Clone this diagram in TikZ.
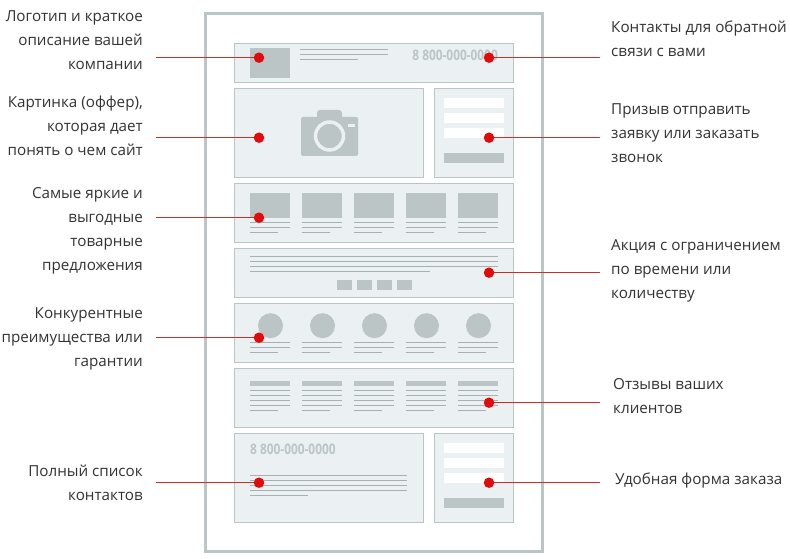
\documentclass[tikz,border=0pt]{standalone}
\usepackage{fontspec}
\usepackage{graphicx}
\setmainfont{Open Sans}
\definecolor{gr}{HTML}{BBC5C6}
\definecolor{pan}{HTML}{EBF0F2}
\definecolor{rd}{HTML}{E00B0B}
\definecolor{ln}{HTML}{C9302C}
\tikzset{
  panel/.style={draw=gr,fill=pan,line width=.9bp},
  block/.style={fill=gr},
  hair/.style={draw=gr!90!black,line width=.7bp},
  dot/.style={circle,fill=rd,inner sep=0pt,minimum size=10.5bp},
  lead/.style={draw=ln,line width=1bp},
  lt/.style={align=right,anchor=east,font=\fontsize{15.2bp}{24bp}\selectfont,text=black!80,inner sep=0pt},
  rt/.style={align=left,anchor=west,font=\fontsize{15.2bp}{24bp}\selectfont,text=black!80,inner sep=0pt},
  ph/.style={inner sep=0pt,text=gr,font=\fontsize{14.5bp}{15bp}\selectfont\bfseries}
}
\newcommand{\pnl}[4]{\draw[panel] (#1,#2) rectangle (#3,#4);}
\newcommand{\blk}[4]{\fill[block] (#1,#2) rectangle (#3,#4);}
\newcommand{\hl}[3]{\draw[hair] (#1,#3) -- (#2,#3);}
\newcommand{\formbits}[1]{%
  \foreach \d in {0,15,30}{\fill[white] (444,#1+\d) rectangle (504,#1+\d+10);}
  \blk{444}{#1+55}{504}{#1+65}}
\begin{document}
\begin{tikzpicture}[x=1bp,y=-1bp]
\useasboundingbox (0,0) rectangle (790,559);
\fill[white] (0,0) rectangle (790,559);
\draw[gr,line width=3bp] (205.5,14) rectangle (542.5,551);
% panels
\pnl{234.5}{43}{513.5}{82.5}
\pnl{234.5}{88}{423.5}{177}
\pnl{434.5}{88}{513.5}{177}
\pnl{234.5}{183.3}{513.5}{242.5}
\pnl{234.5}{248.5}{513.5}{297.5}
\pnl{234.5}{303.5}{513.5}{362.3}
\pnl{234.5}{368.3}{513.5}{427.5}
\pnl{234.5}{433.3}{423.5}{522.5}
\pnl{434.5}{433.3}{513.5}{522.5}
% header
\blk{250}{48}{290}{78}
\hl{300}{388}{49.3}\hl{300}{388}{54.3}\hl{300}{358}{59.5}
\node[ph,anchor=east] (phone1) at (498,55) {\scalebox{.82}[1]{8 800-000-0000}};
% camera
\fill[gr,rounded corners=2bp] (301,117) rectangle (358,156);
\fill[gr,rounded corners=3bp] (317,110) rectangle (342,120);
\fill[gr] (329.5,136) circle (12.5);
\draw[pan,line width=3.5bp] (329.5,136) circle (14);
\fill[pan] (347.5,124) rectangle (354.5,127.5);
% forms
\formbits{98}
\formbits{443}
% cards
\foreach \x in {250,302,354,406,458}{
  \blk{\x}{193}{\x+40}{218}
  \hl{\x}{\x+40}{222.5}\hl{\x}{\x+40}{227.5}\hl{\x}{\x+28}{232.5}
  \fill[gr] (\x+20.5,325.7) circle (12.5);
  \hl{\x}{\x+40}{342.5}\hl{\x}{\x+40}{347.5}\hl{\x}{\x+28}{352.5}
  \blk{\x}{381}{\x+40}{386}
  \hl{\x}{\x+40}{390.5}\hl{\x}{\x+40}{395.5}\hl{\x}{\x+40}{400.5}\hl{\x}{\x+40}{405.5}\hl{\x}{\x+28}{410.5}
}
% promo
\hl{250}{498}{256.5}\hl{250}{498}{261.5}\hl{250}{498}{266.5}\hl{250}{430}{271.5}
\foreach \x in {337,357,377,397}{\blk{\x}{280}{\x+15}{290}}
% contacts
\node[ph,anchor=west] (phone2) at (250,449) {\scalebox{.82}[1]{8 800-000-0000}};
\hl{250}{407}{475.3}\hl{250}{407}{480.3}\hl{250}{407}{485.3}\hl{250}{407}{490.3}\hl{250}{308}{495.3}
% left labels
\node[lt] (t1) at (143,40.5) {Логотип и краткое\\описание вашей\\компании};
\node[lt] (t2) at (143,125.5) {Картинка (оффер),\\которая дает\\понять о чем сайт};
\node[lt] (t3) at (143,230.5) {Самые яркие и\\выгодные\\товарные\\предложения};
\node[lt] (t4) at (143,339) {Конкурентные\\преимущества или\\гарантии};
\node[lt] (t5) at (143,483) {Полный список\\контактов};
% right labels
\node[rt] (t6) at (611,39) {Контакты для обратной\\связи с вами};
\node[rt] (t7) at (611,133) {Призыв отправить\\заявку или заказать\\звонок};
\node[rt] (t8) at (611,271) {Акция с ограничением\\по времени или\\количеству};
\node[rt] (t9) at (613,396) {Отзывы ваших\\клиентов};
\node[rt] (t10) at (615,481) {Удобная форма заказа};
% dots
\node[dot] (a1) at (259,57.7) {};
\node[dot] (a2) at (259,137.7) {};
\node[dot] (a3) at (259,217.7) {};
\node[dot] (a4) at (259,337.7) {};
\node[dot] (a5) at (259,482.7) {};
\node[dot] (b1) at (489,57.7) {};
\node[dot] (b2) at (489,137.7) {};
\node[dot] (b3) at (489,272.7) {};
\node[dot] (b4) at (489,402.7) {};
\node[dot] (b5) at (489,482.7) {};
% free ends
\foreach \n in {1,...,5}{
  \coordinate (la\n) at ([xshift=-259bp+156bp]a\n.center);
  \coordinate (lb\n) at ([xshift=111bp]b\n.center);
  \draw[lead] (a\n) -- (la\n);
  \draw[lead] (b\n) -- (lb\n);
}
\end{tikzpicture}
\end{document}
